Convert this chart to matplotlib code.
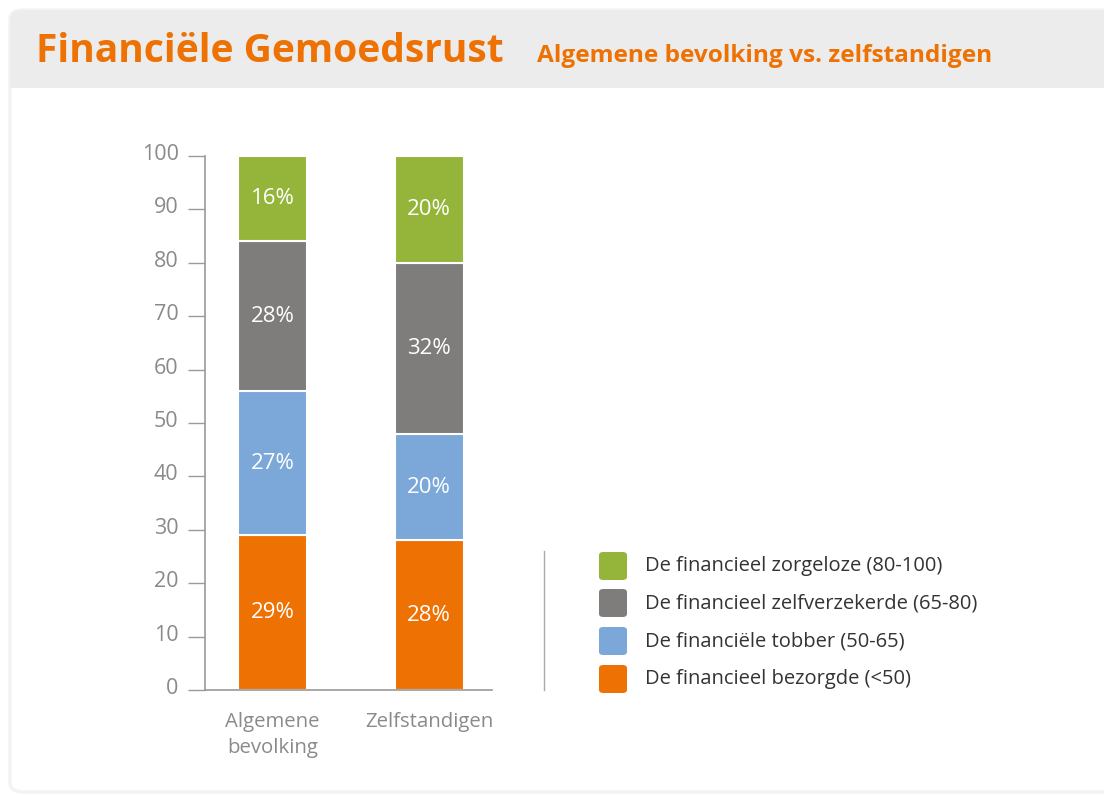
import matplotlib
matplotlib.use("Agg")
import matplotlib.pyplot as plt
from matplotlib.patches import FancyBboxPatch, Rectangle
from matplotlib.transforms import ScaledTranslation

# data
groups = ["Algemene\nbevolking", "Zelfstandigen"]
segments = [
    "De financieel bezorgde (<50)",
    "De financiële tobber (50-65)",
    "De financieel zelfverzekerde (65-80)",
    "De financieel zorgeloze (80-100)",
]
values = [
    [29, 28],   # bezorgde
    [27, 20],   # tobber
    [28, 32],   # zelfverzekerde
    [16, 20],   # zorgeloze
]
colors = ["#ee7203", "#7ba7d9", "#7f7c7c", "#94b53a"]
yticks = [0, 10, 20, 30, 40, 50, 60, 70, 80, 90, 100]

ORANGE = "#ee7203"
GREY_TXT = "#8a8a8a"
FONT = "Open Sans"

W, H = 1104, 795
fig = plt.figure(figsize=(W / 100, H / 100), dpi=100)
fig.patch.set_facecolor("white")

def fx(px):
    return px / W

def fy(py):
    return 1 - py / H

# card background: faint border, gray header
card = FancyBboxPatch((fx(10), fy(792)), fx(1120 - 10), fy(10) - fy(792),
                      boxstyle="round,pad=0,rounding_size=0.012",
                      transform=fig.transFigure, facecolor="white",
                      edgecolor="#f3f3f3", linewidth=2.5, zorder=-2)
fig.patches.append(card)
header = FancyBboxPatch((fx(10), fy(88)), fx(1120 - 10), fy(10) - fy(88),
                        boxstyle="round,pad=0,rounding_size=0.012",
                        transform=fig.transFigure, facecolor="#ececec",
                        edgecolor="none", zorder=-1)
fig.patches.append(header)
fig.patches.append(Rectangle((fx(10), fy(88)), fx(1110), fy(60) - fy(88),
                             transform=fig.transFigure, facecolor="#ececec",
                             edgecolor="none", zorder=-1))

fig.text(fx(36), fy(52), "Financiële Gemoedsrust", color=ORANGE,
         fontsize=28.1, fontweight="bold", family="Open Sans",
         va="center", ha="left", zorder=3)
fig.text(fx(537), fy(56), "Algemene bevolking vs. zelfstandigen", color=ORANGE,
         fontsize=17.6, fontweight="bold", family="Open Sans",
         va="center", ha="left", zorder=3)

# axes
ax = fig.add_axes([fx(205), fy(690), fx(492 - 205), fy(156) - fy(690)])
ax.set_zorder(2)
ax.set_facecolor("none")
x = [0, 1]
bottom = [0, 0]
for vals, col in zip(values, colors):
    ax.bar(x, vals, bottom=bottom, width=0.44, color=col,
           edgecolor="white", linewidth=1.5, zorder=2)
    for xi, v, b in zip(x, vals, bottom):
        ax.text(xi, b + v / 2, f"{v}%", color="white", fontsize=16,
                family=FONT, ha="center", va="center", zorder=3)
    bottom = [b + v for b, v in zip(bottom, vals)]

ax.set_xlim(-0.431, 1.40)
ax.set_ylim(0, 100)
ax.set_yticks(yticks)
ax.set_xticks(x)
ax.set_xticklabels(groups, fontsize=14.7, family=FONT, color=GREY_TXT,
                   linespacing=1.4)
ax.tick_params(axis="x", length=0, pad=16)
ax.tick_params(axis="y", length=12, width=1, color="#9a9a9a", pad=7,
               labelsize=15.5, labelcolor=GREY_TXT)
shift = ScaledTranslation(0, 4 / 100, fig.dpi_scale_trans)
for lbl in ax.get_yticklabels():
    lbl.set_family(FONT)
    lbl.set_transform(lbl.get_transform() + shift)
for s in ["top", "right"]:
    ax.spines[s].set_visible(False)
for s in ["left", "bottom"]:
    ax.spines[s].set_color("#9a9a9a")
    ax.spines[s].set_linewidth(1.2)

# separator line
fig.add_artist(plt.Line2D([fx(544), fx(544)], [fy(551), fy(690)],
                          transform=fig.transFigure, color="#aaaaaa",
                          linewidth=1))

# legend (top-down: zorgeloze first)
row_y = [566, 603, 641, 679]
for ry, lab, col in zip(row_y, segments[::-1], colors[::-1]):
    fig.patches.append(FancyBboxPatch((fx(599), fy(ry + 14)), fx(28), fy(ry - 14) - fy(ry + 14),
                                      boxstyle="round,pad=0,rounding_size=0.004",
                                      transform=fig.transFigure, facecolor=col,
                                      edgecolor="none", zorder=3))
    fig.text(fx(645), fy(ry), lab, color="#333333", fontsize=14.5,
             family=FONT, va="center", ha="left")

fig.savefig("out.png", dpi=100)
